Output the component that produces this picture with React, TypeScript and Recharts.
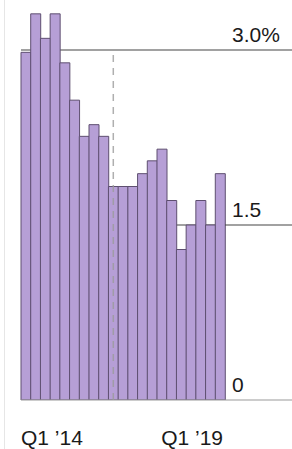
import { BarChart, Bar, XAxis, YAxis, CartesianGrid, ReferenceLine } from 'recharts';

const quarters = [
  "Q1 ’14", "Q2 ’14", "Q3 ’14", "Q4 ’14",
  "Q1 ’15", "Q2 ’15", "Q3 ’15", "Q4 ’15",
  "Q1 ’16", "Q2 ’16", "Q3 ’16", "Q4 ’16",
  "Q1 ’17", "Q2 ’17", "Q3 ’17", "Q4 ’17",
  "Q1 ’18", "Q2 ’18", "Q3 ’18", "Q4 ’18",
  "Q1 ’19",
];
const rates = [
  2.98, 3.31, 3.1, 3.31,
  2.89, 2.57, 2.26, 2.36,
  2.26, 1.83, 1.83, 1.83,
  1.94, 2.05, 2.15, 1.71,
  1.29, 1.5, 1.71, 1.5,
  1.94,
];
const yTicks = [0, 1.5, 3];
const gridValues = [1.5, 3];
const yLabels: Record<number, string> = { 0: '0', 1.5: '1.5', 3: '3.0%' };
const xTicks = ["Q1 ’14", "Q1 ’19"];
const markerQuarter = "Q2 ’16";

const data = quarters.map((q, i) => ({ q, rate: rates[i] }));

const W = 292;
const H = 449;
const PLOT_LEFT = 21;
const PLOT_RIGHT = 225;
const PLOT_BOTTOM = 400;
const FONT = '"Liberation Sans", Arial, Helvetica, sans-serif';

function YTick(props: any) {
  const { y, payload } = props;
  const v = payload.value;
  return (
    <g>
      <line x1={PLOT_RIGHT} x2={W} y1={y} y2={y} stroke={v === 0 ? '#9a9a9a' : '#444'} strokeWidth={1.2} />
      <text x={PLOT_RIGHT + 7} y={y - 8} fontSize={21} fontFamily={FONT} fill="#1a1a1a">
        {yLabels[v]}
      </text>
    </g>
  );
}

function XTick(props: any) {
  const { x, payload } = props;
  const bw = (PLOT_RIGHT - PLOT_LEFT) / quarters.length;
  const first = payload.value === quarters[0];
  return (
    <text
      x={first ? x - bw / 2 : x + bw / 2 - 2}
      y={PLOT_BOTTOM + 45}
      textAnchor={first ? 'start' : 'end'}
      fontSize={21}
      fontFamily={FONT}
      fill="#1a1a1a"
    >
      {payload.value}
    </text>
  );
}

export default function App() {
  return (
    <div style={{ position: 'absolute', left: 0, top: 0, width: W, height: H, background: '#fff' }}>
      <div style={{ position: 'absolute', left: 4, top: 0, width: 1, height: H, background: '#e6e6e6' }} />
      <BarChart
        width={W}
        height={H}
        data={data}
        margin={{ top: 0, right: 0, left: PLOT_LEFT, bottom: 0 }}
        barCategoryGap={0}
        barGap={0}
      >
        <CartesianGrid
          vertical={false}
          horizontalValues={gridValues}
          stroke="#444"
          strokeWidth={1.2}
        />
        <XAxis
          dataKey="q"
          ticks={xTicks}
          interval={0}
          height={H - PLOT_BOTTOM}
          tickLine={false}
          axisLine={{ stroke: '#9a9a9a', strokeWidth: 1.2 }}
          tick={<XTick />}
        />
        <YAxis
          orientation="right"
          width={W - PLOT_RIGHT}
          domain={[0, 3.4286]}
          ticks={yTicks}
          allowDataOverflow
          axisLine={false}
          tickLine={false}
          tick={<YTick />}
        />
        <Bar dataKey="rate" fill="#b69fd6" stroke="#5e4f70" strokeWidth={1} isAnimationActive={false} />
        <ReferenceLine
          segment={[{ x: markerQuarter, y: 0 }, { x: markerQuarter, y: 3 }]}
          stroke="#9b9b9b"
          strokeOpacity={0.8}
          strokeWidth={1.5}
          strokeDasharray="7 6"
        />
      </BarChart>
    </div>
  );
}
